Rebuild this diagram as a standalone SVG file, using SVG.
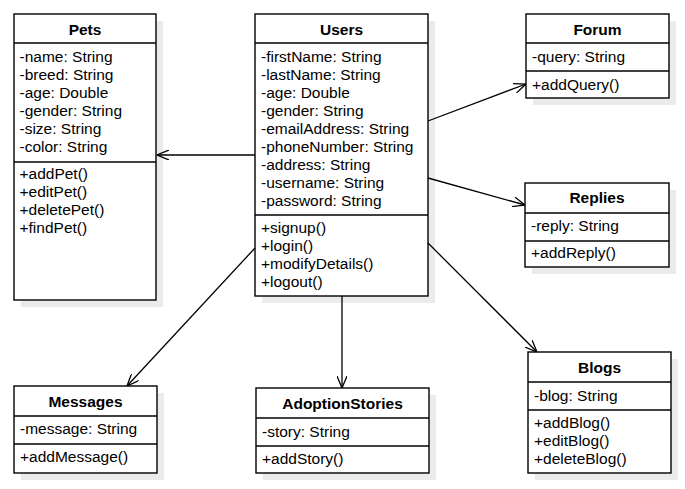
<svg xmlns="http://www.w3.org/2000/svg" width="685" height="489" viewBox="0 0 685 489">
<defs>
<marker id="open" viewBox="0 0 12 10" refX="12" refY="5" markerWidth="12" markerHeight="10" markerUnits="userSpaceOnUse" orient="auto">
<path d="M0,0 L12,5 L0,10" fill="none" stroke="#000" stroke-width="1.3"/>
</marker>
<style>
.box{fill:#fff;stroke:#000;stroke-width:1.4}
.sh{fill:#ebebeb;stroke:none}
.ln{stroke:#000;stroke-width:1.4}
.h{font-family:"Liberation Sans",Arial,sans-serif;font-size:15.5px;font-weight:bold;text-anchor:middle;fill:#000}
.t{font-family:"Liberation Sans",Arial,sans-serif;font-size:15.5px;fill:#000}
.c{stroke:#000;stroke-width:1.3;fill:none;marker-end:url(#open)}
</style>
</defs>
<rect width="685" height="489" fill="#fff"/>

<g id="Pets">
<rect class="sh" x="21" y="21" width="142" height="286"/>
<rect class="box" x="14" y="14" width="142" height="286"/>
<line class="ln" x1="14" y1="43" x2="156" y2="43"/>
<line class="ln" x1="14" y1="162" x2="156" y2="162"/>
<text class="h" x="85" y="35">Pets</text>
<text class="t" x="19.5" y="62">-name: String</text>
<text class="t" x="19.5" y="80">-breed: String</text>
<text class="t" x="19.5" y="98">-age: Double</text>
<text class="t" x="19.5" y="116">-gender: String</text>
<text class="t" x="19.5" y="134">-size: String</text>
<text class="t" x="19.5" y="152">-color: String</text>
<text class="t" x="19.5" y="179">+addPet()</text>
<text class="t" x="19.5" y="197">+editPet()</text>
<text class="t" x="19.5" y="215">+deletePet()</text>
<text class="t" x="19.5" y="233">+findPet()</text>
</g>

<g id="Users">
<rect class="sh" x="262" y="21" width="173" height="282"/>
<rect class="box" x="255" y="14" width="173" height="282"/>
<line class="ln" x1="255" y1="43" x2="428" y2="43"/>
<line class="ln" x1="255" y1="215" x2="428" y2="215"/>
<text class="h" x="341.5" y="35">Users</text>
<text class="t" x="261" y="62">-firstName: String</text>
<text class="t" x="261" y="80">-lastName: String</text>
<text class="t" x="261" y="98">-age: Double</text>
<text class="t" x="261" y="116">-gender: String</text>
<text class="t" x="261" y="134">-emailAddress: String</text>
<text class="t" x="261" y="152">-phoneNumber: String</text>
<text class="t" x="261" y="170">-address: String</text>
<text class="t" x="261" y="188">-username: String</text>
<text class="t" x="261" y="206">-password: String</text>
<text class="t" x="261" y="233">+signup()</text>
<text class="t" x="261" y="251">+login()</text>
<text class="t" x="261" y="269">+modifyDetails()</text>
<text class="t" x="261" y="287">+logout()</text>
</g>

<g id="Forum">
<rect class="sh" x="533" y="21" width="143" height="84"/>
<rect class="box" x="526" y="14" width="143" height="84"/>
<line class="ln" x1="526" y1="43" x2="669" y2="43"/>
<line class="ln" x1="526" y1="71" x2="669" y2="71"/>
<text class="h" x="597.5" y="35">Forum</text>
<text class="t" x="532" y="62">-query: String</text>
<text class="t" x="532" y="90">+addQuery()</text>
</g>

<g id="Replies">
<rect class="sh" x="532" y="190" width="144" height="84"/>
<rect class="box" x="525" y="183" width="144" height="84"/>
<line class="ln" x1="525" y1="213" x2="669" y2="213"/>
<line class="ln" x1="525" y1="241" x2="669" y2="241"/>
<text class="h" x="597" y="203">Replies</text>
<text class="t" x="531" y="231">-reply: String</text>
<text class="t" x="531" y="258">+addReply()</text>
</g>

<g id="Messages">
<rect class="sh" x="21" y="393" width="143" height="87"/>
<rect class="box" x="14" y="386" width="143" height="87"/>
<line class="ln" x1="14" y1="416" x2="157" y2="416"/>
<line class="ln" x1="14" y1="444" x2="157" y2="444"/>
<text class="h" x="85.5" y="407">Messages</text>
<text class="t" x="20" y="434">-message: String</text>
<text class="t" x="20" y="461.5">+addMessage()</text>
</g>

<g id="AdoptionStories">
<rect class="sh" x="263" y="395" width="173" height="85"/>
<rect class="box" x="256" y="388" width="173" height="85"/>
<line class="ln" x1="256" y1="418" x2="429" y2="418"/>
<line class="ln" x1="256" y1="446" x2="429" y2="446"/>
<text class="h" x="342.5" y="409">AdoptionStories</text>
<text class="t" x="262" y="436.5">-story: String</text>
<text class="t" x="262" y="464">+addStory()</text>
</g>

<g id="Blogs">
<rect class="sh" x="535" y="359" width="143" height="121"/>
<rect class="box" x="528" y="352" width="143" height="121"/>
<line class="ln" x1="528" y1="382" x2="671" y2="382"/>
<line class="ln" x1="528" y1="410" x2="671" y2="410"/>
<text class="h" x="599.5" y="372.5">Blogs</text>
<text class="t" x="534" y="400.5">-blog: String</text>
<text class="t" x="534" y="427.5">+addBlog()</text>
<text class="t" x="534" y="445.5">+editBlog()</text>
<text class="t" x="534" y="463.5">+deleteBlog()</text>
</g>

<g id="connectors">
<line class="c" x1="255" y1="155" x2="157" y2="155"/>
<line class="c" x1="428" y1="121" x2="526" y2="84"/>
<line class="c" x1="428" y1="178" x2="525" y2="205"/>
<line class="c" x1="428" y1="243" x2="537" y2="352"/>
<line class="c" x1="342" y1="296" x2="342" y2="388"/>
<line class="c" x1="255" y1="248" x2="127" y2="386"/>
</g>
</svg>
